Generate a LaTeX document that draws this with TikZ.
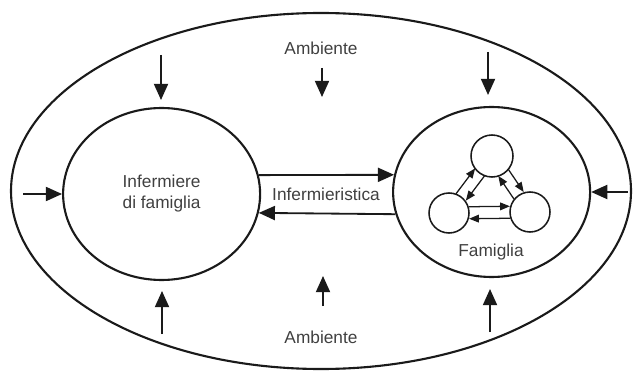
\documentclass[tikz,border=0pt]{standalone}
\usepackage{fontspec}
\setmainfont{Liberation Sans}
\usepackage{tikz}
\usetikzlibrary{arrows.meta,calc,shapes.geometric}
\definecolor{Ink}{HTML}{1A1A1A}
\definecolor{Label}{HTML}{404040}

\begin{document}
\begin{tikzpicture}[font=\fontsize{12.3}{14.9}\selectfont,>={Triangle[length=11.5pt,width=10pt]},
    ring/.style={draw=Ink,line width=1.5pt,ellipse,inner sep=0pt},
    member/.style={draw=Ink,line width=1.1pt,circle,inner sep=0pt,minimum size=1cm},
    push/.style={Ink,line width=1.3pt,->},
    pair/.style={Ink,line width=.9pt,-{Triangle[length=7pt,width=5.5pt]},shorten <=4.9mm,shorten >=5mm}]
        \useasboundingbox (0,0) rectangle (15.825,9.35);
        \node[ring,minimum width=15.5cm,minimum height=8.9cm] (env) at (8.025,4.575) {};
        \node[ring,minimum width=4.925cm,minimum height=4.3cm,text=Label,align=center] (nurse) at (4.04,4.5) {Infermiere\\di famiglia};
        \node[ring,minimum width=4.925cm,minimum height=4.25cm] (fam) at (12.29,4.55) {};
        \node[member,minimum size=1.05cm] (ft) at (12.3,5.45) {};
        \node[member] (fl) at (11.225,4.025) {};
        \node[member] (fr) at (13.25,4.05) {};
        \node[text=Label] (famlab) at (12.275,3.05) {Famiglia};
        \node[text=Label] (care) at (8.15,4.5) {Infermieristica};
        \node[text=Label] (ambtop) at (8.025,8.15) {Ambiente};
        \node[text=Label] (ambbot) at (8.025,0.925) {Ambiente};
        % nurse <-> family
        \draw[push] (nurse.11.2) -- (fam.170);
        \draw[push] (fam.193) -- (nurse.-11.8);
        % family members
        \foreach \a/\b in {fl/ft,ft/fr,fr/fl,ft/fl,fr/ft,fl/fr}
          \draw[pair] ($(\a)!1.5mm!90:(\b)$) -- ($(\b)!1.5mm!-90:(\a)$);
        % environment
        \coordinate (wl) at (0.575,4.5);
        \coordinate (wr) at (15.7,4.55);
        \draw[push] (wl) -- (nurse.west);
        \draw[push] (wr) -- (fam.east);
        \foreach \x/\ya/\yb in {4.025/7.975/6.85,8.05/7.65/6.925,12.2/8.05/6.975,4.05/1.0/2.075,8.075/1.7/2.45,12.25/1.05/2.125}
          \draw[push] (\x,\ya) -- (\x,\yb);
      \end{tikzpicture}
\end{document}
